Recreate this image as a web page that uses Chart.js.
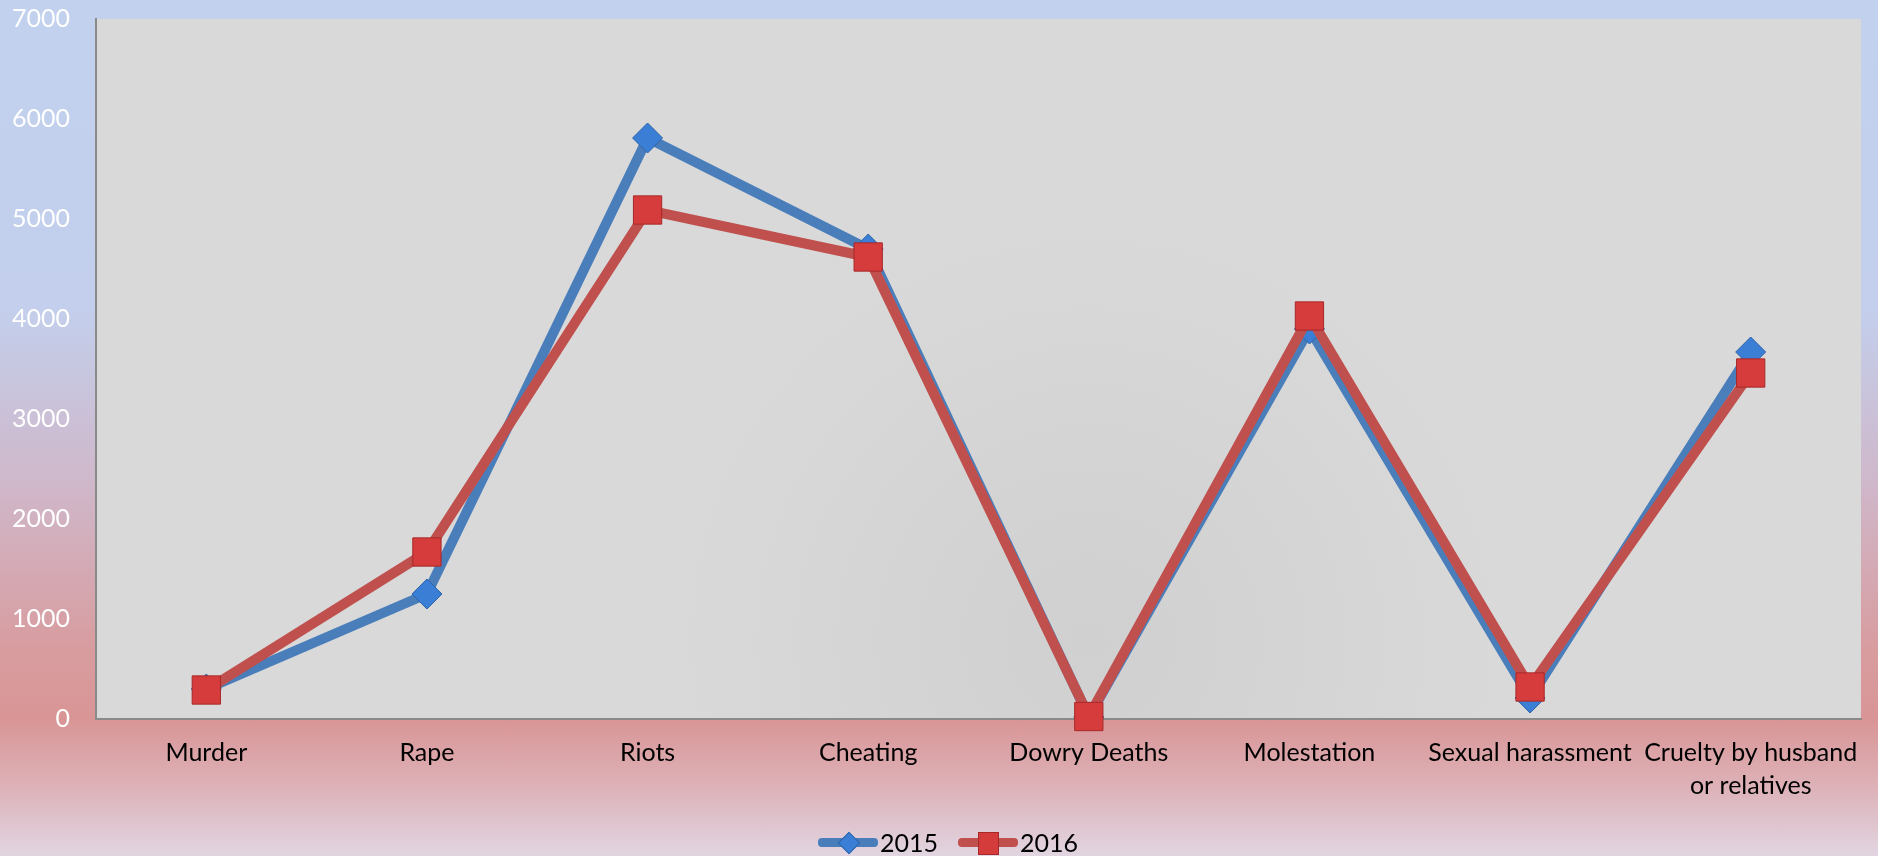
<!DOCTYPE html>
<html>
<head>
<meta charset="utf-8">
<script src="https://cdn.jsdelivr.net/npm/chart.js@4/dist/chart.umd.min.js"></script>
<style>
  html, body { margin: 0; padding: 0; }
  body {
    width: 1878px; height: 856px; overflow: hidden; position: relative;
    background: linear-gradient(to bottom, #c1d1ee 0%, #c3cfec 36%, #cfb8cb 56%, #d89c9f 76%, #d99596 84%, #ddb2b8 92%, #e1d5e1 100%);
    font-family: Lato, "Open Sans", sans-serif;
  }
  #wrap { position: absolute; left: 0; top: 0; width: 1878px; height: 856px; }
  #legend {
    position: absolute; left: 0; width: 1878px; top: 826px; height: 32px;
    display: flex; justify-content: center; align-items: center; gap: 20px;
    padding-left: 18px; box-sizing: border-box;
    font-size: 25px; color: #000;
  }
  .item { display: flex; align-items: center; }
  .sym { position: relative; width: 60px; height: 30px; margin-right: 2px; }
  .sym .ln { position: absolute; left: 0; right: 0; top: 11px; height: 9px; border-radius: 4px; }
  .sym .mk { position: absolute; }
  .dia { width: 14px; height: 14px; left: 23px; top: 8px; transform: rotate(45deg); background: #3a7fd5; border: 1px solid #2d63a8; }
  .sq { width: 19px; height: 21px; left: 20px; top: 5px; background: #d43b3b; border: 1px solid #a82828; }
</style>
</head>
<body>
<div id="wrap"><canvas id="chart"></canvas></div>
<div id="legend">
  <div class="item"><div class="sym"><div class="ln" style="background:#4a7ebb"></div><div class="mk dia"></div></div><span>2015</span></div>
  <div class="item"><div class="sym"><div class="ln" style="background:#c0504d"></div><div class="mk sq"></div></div><span>2016</span></div>
</div>
<script>
const categories = ["Murder", "Rape", "Riots", "Cheating", "Dowry Deaths", "Molestation", "Sexual harassment", ["Cruelty by husband", "or relatives"]];
const values2015 = [300, 1250, 5810, 4700, 20, 3900, 210, 3670];
const values2016 = [290, 1670, 5090, 4620, 25, 4030, 320, 3460];
const yMin = 0;
const yMax = 7000;
const yStep = 1000;

// grey plot area with a faint darker patch, like the original
const plotBackground = {
  id: "plotBackground",
  beforeDraw(chart) {
    const { ctx, chartArea: a } = chart;
    ctx.save();
    ctx.fillStyle = "#d9d9d9";
    ctx.fillRect(a.left, a.top, a.right - a.left, a.bottom - a.top);
    const g = ctx.createRadialGradient(1090, 640, 0, 1090, 640, 420);
    g.addColorStop(0, "rgba(0,0,0,0.045)");
    g.addColorStop(1, "rgba(0,0,0,0)");
    ctx.fillStyle = g;
    ctx.fillRect(a.left, a.top, a.right - a.left, a.bottom - a.top);
    ctx.restore();
  }
};

new Chart(document.getElementById("chart"), {
  type: "line",
  data: {
    labels: categories,
    datasets: [
      {
        label: "2015",
        data: values2015,
        order: 1,
        borderColor: "#4a7ebb",
        borderWidth: 10,
        pointStyle: "rectRot",
        pointRadius: 15,
        pointHoverRadius: 15,
        pointBackgroundColor: "#3a7fd5",
        pointBorderColor: "#2d63a8",
        pointBorderWidth: 1,
        tension: 0
      },
      {
        label: "2016",
        data: values2016,
        order: 0,
        borderColor: "#c0504d",
        borderWidth: 10,
        pointStyle: "rect",
        pointRadius: 20,
        pointHoverRadius: 20,
        pointBackgroundColor: "#d63c3c",
        pointBorderColor: "#a82828",
        pointBorderWidth: 1,
        tension: 0,
        clip: false
      }
    ]
  },
  options: {
    responsive: true,
    maintainAspectRatio: false,
    animation: false,
    layout: { autoPadding: false, padding: { top: 19, right: 17, bottom: 0, left: 0 } },
    plugins: {
      legend: { display: false },
      tooltip: { enabled: false }
    },
    scales: {
      x: {
        offset: true,
        grid: { display: false, drawTicks: false },
        border: { display: true, color: "#8a8a8a", width: 2 },
        ticks: {
          color: "#000",
          padding: 18,
          maxRotation: 0,
          autoSkip: false,
          font: { family: "Lato", size: 25, lineHeight: 1.3 }
        },
        afterFit(axis) { axis.height = 137; axis.paddingLeft = 0; axis.paddingRight = 0; }
      },
      y: {
        min: yMin,
        max: yMax,
        grid: { display: false, drawTicks: false },
        border: { display: true, color: "#8a8a8a", width: 2 },
        ticks: {
          stepSize: yStep,
          color: "#ffffff",
          padding: 26,
          font: { family: "Lato", size: 25 },
          callback: (v) => String(v)
        },
        afterFit(axis) { axis.width = 96; axis.paddingTop = 0; axis.paddingBottom = 0; }
      }
    }
  },
  plugins: [plotBackground]
});
</script>
</body>
</html>
